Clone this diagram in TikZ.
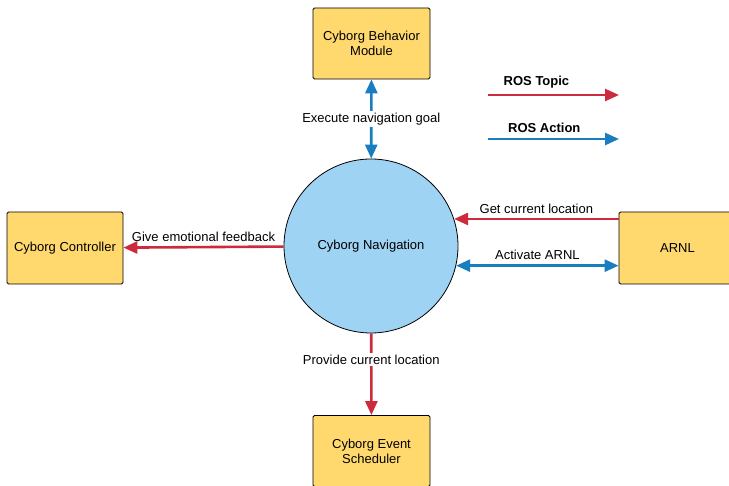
\documentclass[tikz,border=0pt]{standalone}
\usepackage{fontspec}
\setmainfont{Liberation Sans}
\usetikzlibrary{arrows.meta}
\definecolor{boxyellow}{HTML}{FFD96E}
\definecolor{navblue}{HTML}{9ED3F3}
\definecolor{topicred}{HTML}{CC2A3D}
\definecolor{actionblue}{HTML}{1A7DC0}
\begin{document}
\begin{tikzpicture}[x=1pt, y=-1pt, font=\fontsize{13}{15}\selectfont,
            box_style/.style={rectangle, draw=black, thick, rounded corners=1.5pt, fill=boxyellow,
                minimum width=117pt, minimum height=71pt, align=center},
            nav_style/.style={circle, draw=black, thick, fill=navblue, minimum size=174pt, inner sep=0pt},
            topic_style/.style={draw=topicred, line width=2.6pt, arrows={-Triangle[length=14pt,width=12pt]}},
            action_style/.style={draw=actionblue, line width=2.6pt, arrows={Triangle[length=14pt,width=12pt]-Triangle[length=14pt,width=12pt]}},
            legend_action_style/.style={draw=actionblue, line width=2.6pt, arrows={-Triangle[length=14pt,width=12pt]}},
            label_style/.style={fill=white, inner sep=2pt}]
            \useasboundingbox (0,0) rectangle (729,486);
            \clip (0,0) rectangle (729,486);
            \node[nav_style] (nav) at (371,246) {Cyborg Navigation};
            \node[box_style] (behavior) at (371.5,43.5) {Cyborg Behavior\\Module};
            \node[box_style, minimum width=116pt, minimum height=72pt] (controller) at (65,248) {Cyborg Controller};
            \node[box_style, minimum height=72pt] (arnl) at (677.5,248) {ARNL};
            \node[box_style] (scheduler) at (371.5,451) {Cyborg Event\\Scheduler};
            % connectors
            \draw[action_style] (behavior) -- (nav)
                node[label_style, pos=0.5] {Execute navigation goal};
            \draw[topic_style] (nav) -- (scheduler)
                node[label_style, pos=0.32] {Provide current location};
            \draw[topic_style] (nav) -- (controller)
                node[pos=0.5, above=1pt] {Give emotional feedback};
            \draw[topic_style] (arnl.west |- nav.18) -- (nav.18)
                node[pos=0.5, above=1pt] {Get current location};
            \draw[action_style] (nav.-13) -- (arnl.west |- nav.-13)
                node[pos=0.5, above=1pt] {Activate ARNL};
            % legend
            \coordinate (topic_a) at (488,95);
            \coordinate (topic_b) at (619,95);
            \coordinate (action_a) at (488,139);
            \coordinate (action_b) at (619,139);
            \draw[topic_style] (topic_a) -- (topic_b)
                node[pos=0.37, above=2pt] {\bfseries ROS Topic};
            \draw[legend_action_style] (action_a) -- (action_b)
                node[pos=0.43, above=2pt] {\bfseries ROS Action};
        \end{tikzpicture}
\end{document}
